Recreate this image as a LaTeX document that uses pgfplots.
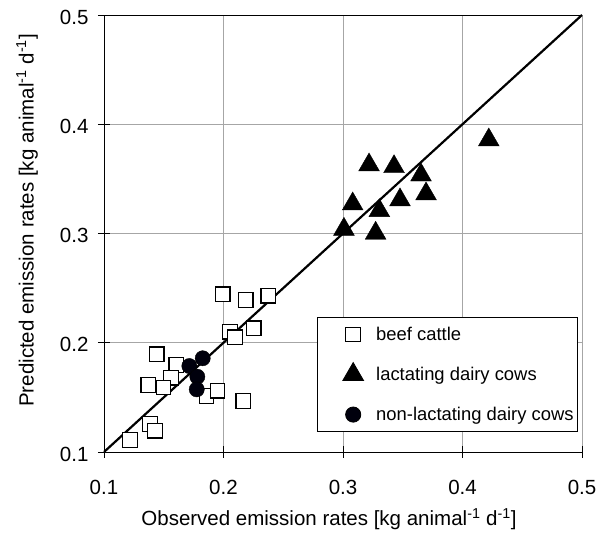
\documentclass[border=0pt]{standalone}
\usepackage{pgfplots}
\pgfplotsset{compat=1.18}
\usepackage{fontspec}
\setmainfont{Liberation Sans}
\pgfplotsset{
  mylegend/.style={legend image code/.code={
    \path[draw=none, fill=none] (-34pt,-12pt) rectangle (12pt,12pt);
    \draw[##1] plot coordinates {(0pt,0pt)};
  }},
}
\begin{document}
\begin{tikzpicture}
\begin{axis}[
  scale only axis,
  width=478pt, height=437pt,
  xmin=0.1, xmax=0.5, ymin=0.1, ymax=0.5,
  xtick={0.1,0.2,0.3,0.4,0.5},
  ytick={0.1,0.2,0.3,0.4,0.5},
  xticklabels={0.1,0.2,0.3,0.4,0.5},
  yticklabels={0.1,0.2,0.3,0.4,0.5},
  axis x line*=bottom, axis y line*=left,
  axis line style={black, line width=0.9pt},
  grid=major,
  grid style={gray!70, line width=0.8pt},
  tick align=center,
  major tick length=12pt,
  tick style={black, line width=0.9pt},
  ticklabel style={font=\fontsize{20.5}{24}\selectfont},
  xticklabel style={yshift=-19pt},
  yticklabel style={xshift=-6pt, yshift=-2pt},
  label style={font=\fontsize{20.5}{24}\selectfont},
  xlabel={Observed emission rates [kg animal\textsuperscript{-1} d\textsuperscript{-1}]},
  ylabel={Predicted emission rates [kg animal\textsuperscript{-1} d\textsuperscript{-1}]},
  xlabel style={at={(axis description cs:0.4707,-0.1533)}, anchor=center},
  ylabel style={at={(axis description cs:-0.161,0.53)}, anchor=center},
  legend cell align=left,
  legend style={
    at={(rel axis cs:0.9916,0.0458)}, anchor=south east,
    font=\fontsize{18.4}{22}\selectfont,
    draw=black, line width=0.8pt,
    inner xsep=2pt, inner ysep=5pt,
    row sep=16pt,
    /tikz/every odd column/.append style={column sep=9pt},
  },
  clip=false,
]
\addplot[black, line width=2.2pt, forget plot] coordinates {(0.1,0.1) (0.5,0.5)};
\addplot[only marks, mark=square*, mark size=7.3pt, mark options={fill=white, draw=black, line width=1.1pt}, mylegend] coordinates {
(0.1993,0.2443) (0.2186,0.2391) (0.2375,0.2431) (0.2054,0.2101) (0.2096,0.2050)
(0.2253,0.2132) (0.1441,0.1894) (0.1605,0.1796) (0.1561,0.1680) (0.1371,0.1613)
(0.1497,0.1589) (0.1859,0.1513) (0.1951,0.1561) (0.2166,0.1467) (0.1385,0.1256)
(0.1427,0.1195) (0.1218,0.1110)
};
\addlegendentry{beef cattle}
\addplot[only marks, mark=triangle*, mark size=12pt, mark options={fill=black, draw=black}, mylegend] coordinates {
(0.3218,0.3627) (0.3427,0.3611) (0.3653,0.3535) (0.3695,0.3362) (0.3477,0.3307)
(0.3081,0.3270) (0.3304,0.3209) (0.3008,0.3038) (0.3273,0.3002) (0.4220,0.3856)
};
\addlegendentry{lactating dairy cows}
\addplot[only marks, mark=*, mark size=7.6pt, mark options={fill=black!95!blue, draw=black}, mylegend] coordinates {
(0.1826,0.1858) (0.1714,0.1787) (0.1781,0.1689) (0.1776,0.1573)
};
\addlegendentry{non-lactating dairy cows}
\draw[black, line width=0.9pt] (rel axis cs:0,1) -- (rel axis cs:1,1);
\coordinate (SW) at (rel axis cs:0,0);
\coordinate (NE) at (rel axis cs:1,1);
\end{axis}
\pgfresetboundingbox
\path ([shift={(-104pt,-82pt)}]SW) rectangle ([shift={(15pt,15pt)}]NE);
\end{tikzpicture}
\end{document}
